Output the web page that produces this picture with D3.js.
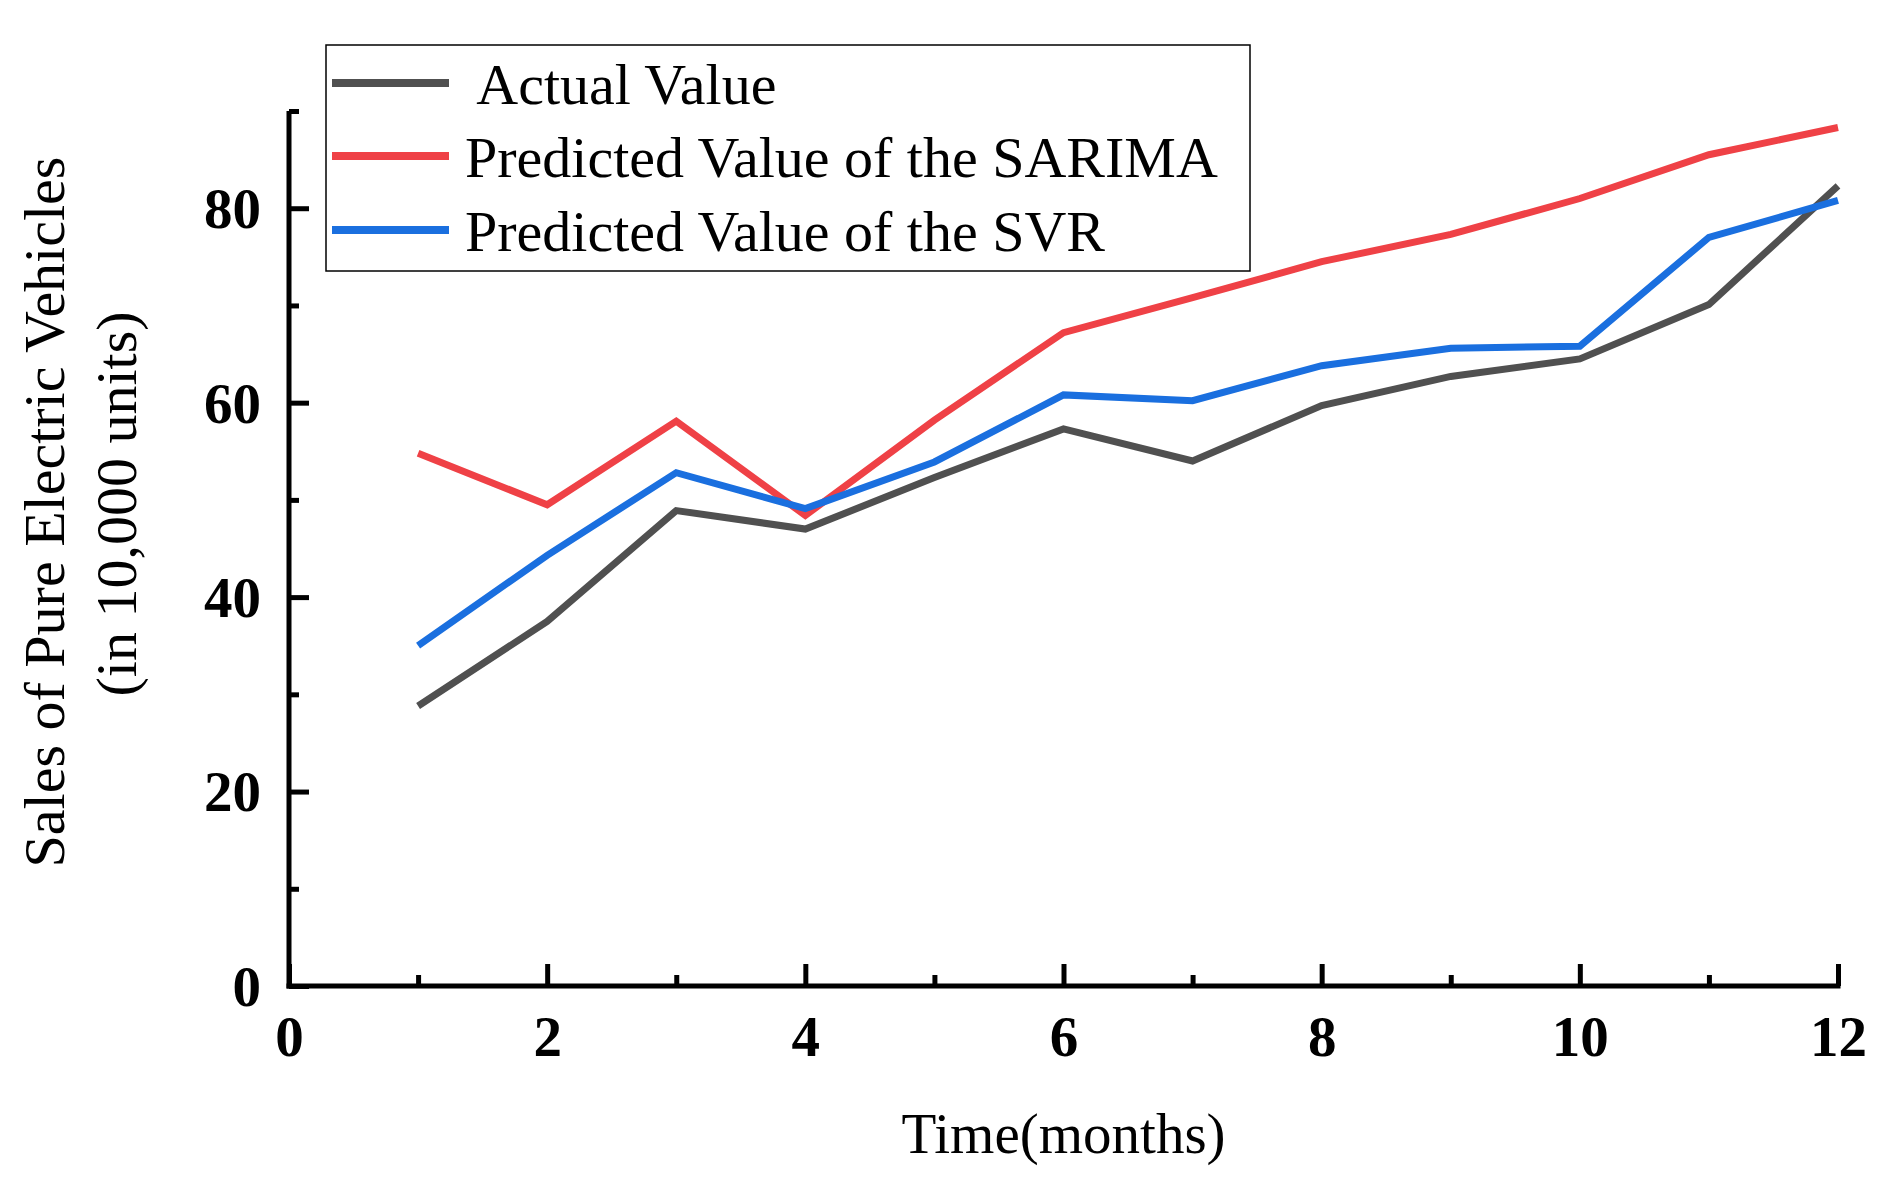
<!DOCTYPE html>
<html><head><meta charset="utf-8">
<script src="https://cdn.jsdelivr.net/npm/d3@7"></script>
<style>body{margin:0;background:#fff}svg{display:block}</style>
</head><body>
<svg id="c" width="1884" height="1187"></svg>
<script>
const months = [1,2,3,4,5,6,7,8,9,10,11,12];
const actual = [28.8,37.5,48.9,47.0,52.3,57.3,54.0,59.7,62.7,64.5,70.1,82.3];
const sarima = [54.8,49.5,58.1,48.4,58.2,67.2,70.8,74.5,77.3,81.0,85.5,88.3];
const svr    = [35.0,44.3,52.8,49.1,53.9,60.8,60.2,63.8,65.6,65.8,77.0,80.8];
const seriesNames = [" Actual Value","Predicted Value of the SARIMA","Predicted Value of the SVR"];
const seriesColors = ["#505050","#EF4146","#1A6FDF"];
const xTicks = [0,2,4,6,8,10,12];
const xMinor = [1,3,5,7,9,11];
const yTicks = [0,20,40,60,80];
const yMinor = [10,30,50,70,90];

const svg = d3.select("#c");
const x = d3.scaleLinear().domain([0,12]).range([289,1838]);
const y = d3.scaleLinear().domain([0,90]).range([986,111]);
const font = "'Liberation Serif','Times New Roman',serif";

// lines
const series = [actual, sarima, svr];
const line = d3.line().x((d,i)=>x(months[i])).y(d=>y(d));
series.forEach((s,k)=>{
  svg.append("path").attr("d",line(s)).attr("fill","none")
    .attr("stroke",seriesColors[k]).attr("stroke-width",7).attr("stroke-linejoin","miter");
});

// axes
const axW = 5;
const gx = svg.append("g").attr("transform",`translate(0,${y(0)})`);
gx.call(d3.axisBottom(x).tickValues(xTicks).tickSizeInner(-22).tickSizeOuter(0).tickFormat(d3.format("d")));
gx.selectAll(".tick line").attr("stroke","#000").attr("stroke-width",axW);
gx.select(".domain").attr("stroke","#000").attr("stroke-width",axW).attr("d",`M${x(0)-axW/2},0H${x(12)+axW/2}`);
gx.selectAll(".tick text").attr("font-family",font).attr("font-weight","bold").attr("font-size",57)
  .attr("fill","#000").attr("y",0).attr("dy","1.22em");
const gxm = svg.append("g").attr("transform",`translate(0,${y(0)})`);
gxm.call(d3.axisBottom(x).tickValues(xMinor).tickSizeInner(-11).tickSizeOuter(0).tickFormat(""));
gxm.select(".domain").remove();
gxm.selectAll(".tick line").attr("stroke","#000").attr("stroke-width",axW);

const gy = svg.append("g").attr("transform",`translate(${x(0)},0)`);
gy.call(d3.axisLeft(y).tickValues(yTicks).tickSizeInner(-20).tickSizeOuter(0).tickFormat(d3.format("d")));
gy.selectAll(".tick line").attr("stroke","#000").attr("stroke-width",axW);
gy.select(".domain").attr("stroke","#000").attr("stroke-width",axW).attr("d",`M0,${y(0)+axW/2}V${y(90)}`);
gy.selectAll(".tick text").attr("font-family",font).attr("font-weight","bold").attr("font-size",57)
  .attr("fill","#000").attr("x",-28).attr("dy","0.34em");
const gym = svg.append("g").attr("transform",`translate(${x(0)},0)`);
gym.call(d3.axisLeft(y).tickValues(yMinor).tickSizeInner(-10).tickSizeOuter(0).tickFormat(""));
gym.select(".domain").remove();
gym.selectAll(".tick line").attr("stroke","#000").attr("stroke-width",axW);

// axis titles
svg.append("text").attr("x",(x(0)+x(12))/2).attr("y",1153).attr("text-anchor","middle")
  .attr("font-family",font).attr("font-size",57).attr("fill","#000").text("Time(months)");
svg.append("text").attr("transform","translate(64,512) rotate(-90)").attr("text-anchor","middle")
  .attr("font-family",font).attr("font-size",58).attr("fill","#000").text("Sales of Pure Electric Vehicles");
svg.append("text").attr("transform","translate(136,504) rotate(-90)").attr("text-anchor","middle")
  .attr("font-family",font).attr("font-size",58).attr("fill","#000").text("(in 10,000 units)");

// legend
const lg = svg.append("g");
lg.append("rect").attr("x",326).attr("y",45).attr("width",924).attr("height",226)
  .attr("fill","#fff").attr("stroke","#000").attr("stroke-width",1.5);
const rows = [83,156,230];
seriesNames.forEach((n,k)=>{
  lg.append("line").attr("x1",332).attr("x2",449).attr("y1",rows[k]).attr("y2",rows[k])
    .attr("stroke",seriesColors[k]).attr("stroke-width",8);
  lg.append("text").attr("x",465).attr("y",rows[k]+21).attr("font-family",font).attr("font-size",58)
    .attr("fill","#000").style("white-space","pre").text(n);
});
</script>
</body></html>
